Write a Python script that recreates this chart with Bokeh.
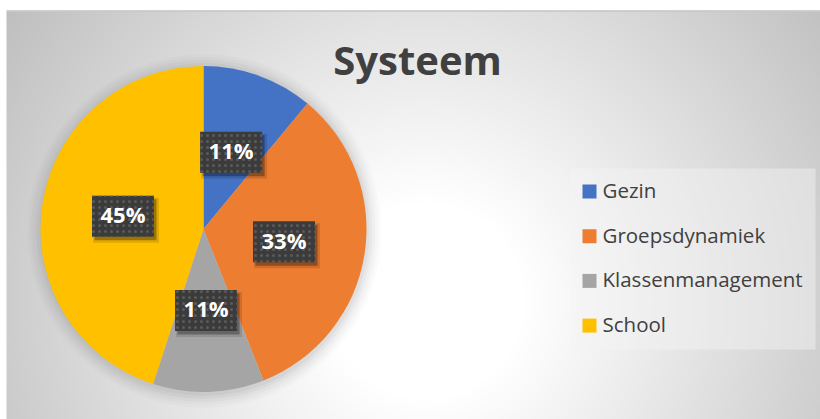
import numpy as np
from bokeh.plotting import figure
from bokeh.models import Range1d
from bokeh.core.properties import value
from bokeh.embed import file_html
from bokeh.resources import INLINE

# ---- data ----
title = "Systeem"
categories = ["Gezin", "Groepsdynamiek", "Klassenmanagement", "School"]
values = [11, 33, 11, 45]
colors = ["#4472C4", "#ED7D31", "#A5A5A5", "#FFC000"]

# ---- layout (page pixels) ----
W, H = 820, 419
OX, OY = 0, 0


def X(px):
    return px - OX


def Y(py):
    return H - (py - OY)


p = figure(width=W, height=H, x_range=Range1d(0, W), y_range=Range1d(0, H),
           output_backend="svg", toolbar_location=None,
           x_axis_location=None, y_axis_location=None, min_border=0,
           outline_line_color=None)
p.grid.visible = False
p.background_fill_color = "white"
p.border_fill_color = "white"

# ---- background radial gradient ----
left_page, top_page = 6, 11
cols, rows = 407, 204
dw = W - X(left_page)
dh = Y(top_page)
xs = X(left_page) + (np.arange(cols) + 0.5) * dw / cols
ys = (np.arange(rows) + 0.5) * dh / rows
PX = xs[None, :] + OX
PY = OY + H - ys[:, None]
d = np.sqrt((PX - 425.0) ** 2 + (PY - 300.0) ** 2)
t = np.clip((d - 100.0) / 410.0, 0, 1)
g = (255 - 64 * t).astype(np.uint8)
img = np.empty((rows, cols), dtype=np.uint32)
view = img.view(dtype=np.uint8).reshape((rows, cols, 4))
view[..., 0] = g
view[..., 1] = g
view[..., 2] = g
view[..., 3] = 255
p.image_rgba(image=[img], x=X(left_page), y=0, dw=dw, dh=dh)
p.segment(x0=[X(left_page)], y0=[Y(10.5)], x1=[W], y1=[Y(10.5)],
          line_color="#c0c0c0", line_width=1.5)

# ---- pie ----
cx, cy, r = X(203), Y(228.5), 163
for k, a in enumerate([0.035, 0.03, 0.025, 0.02, 0.015]):
    p.circle(x=[cx + 1], y=[cy - 2], radius=r + 2 + 3 * k, radius_units="screen",
             fill_color="black", fill_alpha=a, line_color=None)

vals = np.array(values, dtype=float)
frac = vals / vals.sum()
cum = np.concatenate([[0], np.cumsum(frac)])
start = np.pi / 2 - 2 * np.pi * cum[:-1]
end = np.pi / 2 - 2 * np.pi * cum[1:]
p.wedge(x=[cx] * len(values), y=[cy] * len(values), radius=r, radius_units="screen",
        start_angle=list(start), end_angle=list(end), direction="clock",
        fill_color=colors, line_color=None)

# ---- data labels ----
mid = (start + end) / 2
lx = cx + 0.5 * r * np.cos(mid)
ly = cy + 0.5 * r * np.sin(mid)
labels = [f"{round(f * 100)}%" for f in frac]
bw, bh = 62, 41
p.rect(x=list(lx + 3), y=list(ly - 4), width=bw + 4, height=bh + 4, fill_color="black",
       fill_alpha=0.12, line_color=None)
p.rect(x=list(lx + 2.5), y=list(ly - 3.5), width=bw, height=bh, fill_color="black",
       fill_alpha=0.3, line_color=None)
p.rect(x=list(lx), y=list(ly), width=bw, height=bh, fill_color="#3b3b3b",
       line_color=None, hatch_pattern="dot", hatch_color="#5a5a5a",
       hatch_scale=6, hatch_weight=1.5)
p.text(x=list(lx), y=list(ly + 2), text=labels, text_align="center",
       text_baseline="alphabetic", text_font=value("Open Sans"),
       text_font_style="bold", text_font_size="22px", text_color="white")

# ---- title ----
p.text(x=[X(417)], y=[Y(59)], text=[title], text_align="center",
       text_baseline="alphabetic", text_font=value("Open Sans"),
       text_font_style="bold", text_font_size="40px", text_color="#404040")

# ---- legend ----
p.quad(left=[X(570)], right=[X(815)], top=[Y(168)], bottom=[Y(349)],
       fill_color="#f4f4f4", fill_alpha=0.45, line_color=None)
row_y = [Y(191 + i * 44.7) for i in range(len(categories))]
p.rect(x=[X(589)] * len(categories), y=row_y, width=14, height=14,
       fill_color=colors, line_color=None)
p.text(x=[X(602)] * len(categories), y=[yy + 1.5 for yy in row_y], text=categories,
       text_align="left", text_baseline="alphabetic", text_font=value("Open Sans"),
       text_font_size="20.5px", text_color="#404040")

open("out.html", "w").write(file_html(p, INLINE))
